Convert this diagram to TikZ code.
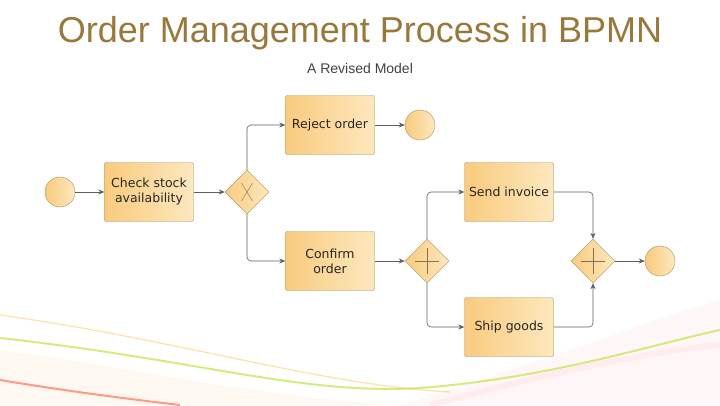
\documentclass[tikz,border=0pt]{standalone}
\usepackage{fontspec}
\setmainfont{DejaVu Sans}
\newfontfamily\titlefont{Liberation Sans}
\usetikzlibrary{shapes.geometric,arrows.meta}
\definecolor{boxfill}{HTML}{F9CB7E}
\definecolor{boxlight}{HTML}{FDE8BF}
\definecolor{boxline}{HTML}{A98F62}
\definecolor{flowline}{HTML}{5E5E5E}
\definecolor{titlebrown}{HTML}{98783B}

\begin{document}
\begin{tikzpicture}[
  x=1pt, y=-1pt,
  task/.style={draw=boxline, rounded corners=2pt, align=center,
               left color=boxfill, right color=boxlight,
               minimum width=89pt, minimum height=59pt, inner sep=2pt,
               font=\fontsize{12.5}{15}\selectfont, text=black!85},
  event/.style={circle, draw=boxline, left color=boxfill, right color=boxlight,
                minimum size=30pt, inner sep=0pt},
  gate/.style={diamond, draw=boxline, left color=boxfill, right color=boxlight,
               minimum size=44pt, inner sep=0pt},
  flow/.style={draw=flowline, line width=0.6pt, rounded corners=4pt, ->},
  >={Stealth[length=6pt,width=5pt]}
]
\useasboundingbox (0,0) rectangle (720,405);

% background swooshes
\fill[orange!30, opacity=0.18] (0,350) .. controls (150,370) and (300,405) .. (420,405)
  -- (0,405) -- cycle;
\fill[red!25, opacity=0.12] (400,405) .. controls (550,360) and (650,320) .. (720,300)
  -- (720,405) -- cycle;
\draw[yellow!70!green, line width=2pt, opacity=0.55]
  (0,338) .. controls (200,360) and (300,395) .. (420,388)
  .. controls (550,378) and (650,345) .. (720,330);
\draw[orange!70!yellow, line width=1.2pt, opacity=0.35]
  (0,315) .. controls (180,340) and (320,385) .. (450,392);
\draw[red!70!orange, line width=2pt, opacity=0.45]
  (0,380) .. controls (60,390) and (120,398) .. (180,405);
\draw[red!20, line width=6pt, opacity=0.25]
  (430,405) .. controls (560,370) and (660,350) .. (720,345);

% titles
\node (title) at (360,33)
  {\titlefont\fontsize{36}{40}\selectfont\color{titlebrown}Order Management Process in BPMN};
\node (subtitle) at (360,68)
  {\titlefont\fontsize{14}{16}\selectfont\color{black!75}A Revised Model};

% nodes
\node[event] (start)   at (60,192)  {};
\node[task]  (check)   at (149,192) {Check stock\\ availability};
\node[gate]  (xor)     at (247,192) {};
\node[task]  (reject)  at (330,125) {Reject order};
\node[event] (endrej)  at (420,125) {};
\node[task]  (confirm) at (330,261) {Confirm\\ order};
\node[gate]  (split)   at (427,261) {};
\node[task]  (invoice) at (509,192) {Send invoice};
\node[task]  (ship)    at (509,327) {Ship goods};
\node[gate]  (join)    at (593,261) {};
\node[event] (endok)   at (660,261) {};

% gateway marks
\draw[boxline!80!black, line width=0.4pt]
  (xor.center) ++(-5.5,-9) -- ++(11,18)
  (xor.center) ++(5.5,-9) -- ++(-11,18);
\foreach \g in {split, join}
  \draw[boxline!80!black, line width=0.4pt]
    (\g.center) ++(-12,0) -- ++(24,0)
    (\g.center) ++(0,-13) -- ++(0,26);

% sequence flows
\draw[flow] (start)      -- (check);
\draw[flow] (check)      -- (xor);
\draw[flow] (xor.north)  |- (reject.west);
\draw[flow] (xor.south)  |- (confirm.west);
\draw[flow] (reject)     -- (endrej);
\draw[flow] (confirm)    -- (split);
\draw[flow] (split.north) |- (invoice.west);
\draw[flow] (split.south) |- (ship.west);
\draw[flow] (invoice.east) -| (join.north);
\draw[flow] (ship.east)    -| (join.south);
\draw[flow] (join)       -- (endok);
\end{tikzpicture}
\end{document}
